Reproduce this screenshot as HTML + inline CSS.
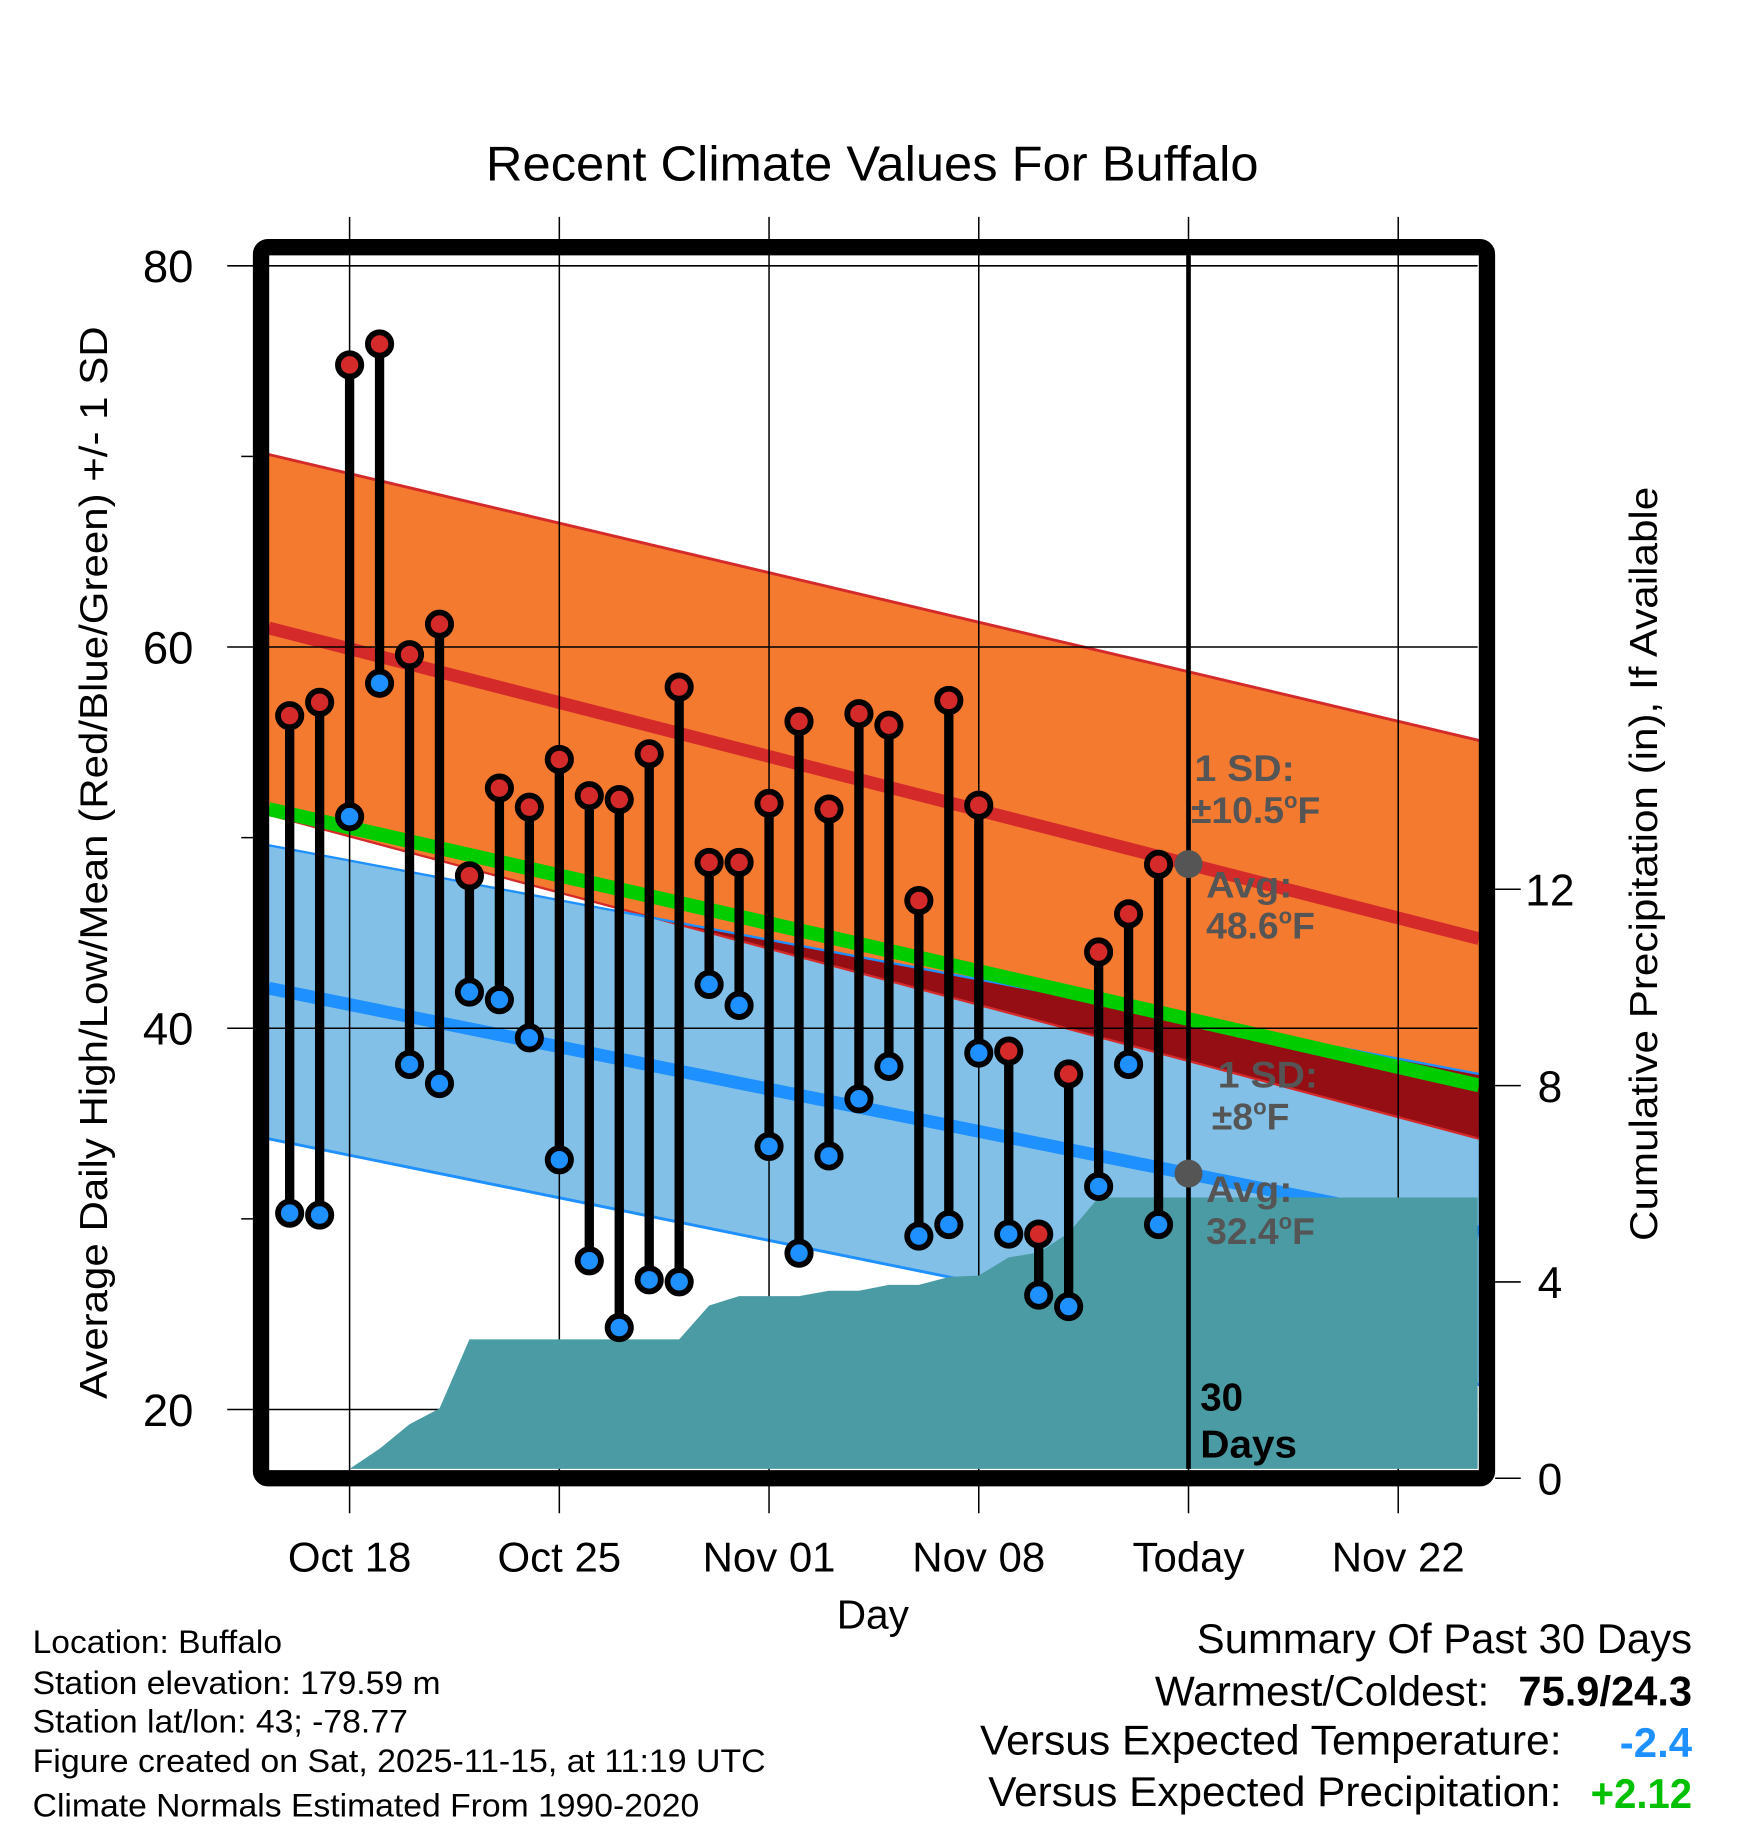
<!DOCTYPE html>
<html><head><meta charset="utf-8"><style>
html,body{margin:0;padding:0;background:#fff;}
svg{display:block;font-family:"Liberation Sans",sans-serif;}
</style></head><body>
<svg id="chart" width="1748" height="1828" viewBox="0 0 1500 1568" preserveAspectRatio="none" xmlns="http://www.w3.org/2000/svg">
<g id="bands"></g>
<g id="grid"></g>
<g id="precip"></g>
<g id="marks"></g>
<g id="axes"></g>
<text x="417" y="155" font-size="42" textLength="663" lengthAdjust="spacingAndGlyphs">Recent Climate Values For Buffalo</text>
<text transform="translate(92,740) rotate(-90)" font-size="33" text-anchor="middle" textLength="920" lengthAdjust="spacingAndGlyphs">Average Daily High/Low/Mean (Red/Blue/Green) +/- 1 SD</text>
<text transform="translate(1422,741) rotate(-90)" font-size="33" text-anchor="middle" textLength="647" lengthAdjust="spacingAndGlyphs">Cumulative Precipitation (in), If Available</text>
<text x="718" y="1397" font-size="35" textLength="62" lengthAdjust="spacingAndGlyphs">Day</text>
<g font-weight="bold" font-size="32" fill="#555">
<text x="1025" y="670" textLength="86" lengthAdjust="spacingAndGlyphs">1 SD:</text>
<text x="1022" y="706">±10.5<tspan font-size="19" dy="-13">o</tspan><tspan dy="13">F</tspan></text>
<text x="1035" y="770" textLength="74" lengthAdjust="spacingAndGlyphs">Avg:</text>
<text x="1035" y="805">48.6<tspan font-size="19" dy="-13">o</tspan><tspan dy="13">F</tspan></text>
<text x="1045" y="933" textLength="86" lengthAdjust="spacingAndGlyphs">1 SD:</text>
<text x="1040" y="969">±8<tspan font-size="19" dy="-13">o</tspan><tspan dy="13">F</tspan></text>
<text x="1035" y="1031" textLength="74" lengthAdjust="spacingAndGlyphs">Avg:</text>
<text x="1035" y="1067">32.4<tspan font-size="19" dy="-13">o</tspan><tspan dy="13">F</tspan></text>
</g>
<g font-weight="bold" font-size="33" fill="#000">
<text x="1030" y="1210">30</text><text x="1030" y="1250" textLength="83" lengthAdjust="spacingAndGlyphs">Days</text>
</g>
<g font-size="28" lengthAdjust="spacingAndGlyphs">
<text x="28" y="1418" textLength="214" lengthAdjust="spacingAndGlyphs">Location: Buffalo</text>
<text x="28" y="1453" textLength="350" lengthAdjust="spacingAndGlyphs">Station elevation: 179.59 m</text>
<text x="28" y="1486" textLength="322" lengthAdjust="spacingAndGlyphs">Station lat/lon: 43; -78.77</text>
<text x="28" y="1520" textLength="629" lengthAdjust="spacingAndGlyphs">Figure created on Sat, 2025-11-15, at 11:19 UTC</text>
<text x="28" y="1558" textLength="572" lengthAdjust="spacingAndGlyphs">Climate Normals Estimated From 1990-2020</text>
</g>
<g font-size="36">
<text x="1027" y="1418" textLength="425" lengthAdjust="spacingAndGlyphs">Summary Of Past 30 Days</text>
<text x="991" y="1463" textLength="287" lengthAdjust="spacingAndGlyphs">Warmest/Coldest:</text>
<text x="1303" y="1463" font-weight="bold" textLength="149" lengthAdjust="spacingAndGlyphs">75.9/24.3</text>
<text x="841" y="1505" textLength="499" lengthAdjust="spacingAndGlyphs">Versus Expected Temperature:</text>
<text x="1390" y="1507" font-weight="bold" fill="#1e90ff" textLength="62" lengthAdjust="spacingAndGlyphs">-2.4</text>
<text x="848" y="1549" textLength="492" lengthAdjust="spacingAndGlyphs">Versus Expected Precipitation:</text>
<text x="1365" y="1551" font-weight="bold" fill="#00c000" textLength="87" lengthAdjust="spacingAndGlyphs">+2.12</text>
</g>
</svg>
<script>
const days = [-2,-1,0,1,2,3,4,5,6,7,8,9,10,11,12,13,14,15,16,17,18,19,20,21,22,23,24,25,26,27];
const highs = [56.4,57.1,74.8,75.9,59.6,61.2,48.0,52.6,51.6,54.1,52.2,52.0,54.4,57.9,48.7,48.7,51.8,56.1,51.5,56.5,55.9,46.7,57.2,51.7,38.8,29.2,37.6,44.0,46.0,48.6];
const lows = [30.3,30.2,51.1,58.1,38.1,37.1,41.9,41.5,39.5,33.1,27.8,24.3,26.8,26.7,42.3,41.2,33.8,28.2,33.3,36.3,38.0,29.1,29.7,38.7,29.2,26.0,25.4,31.7,38.1,29.7];
const precip = [0,0,0,0.6,1.1,1.42,2.83,2.83,2.83,2.83,2.83,2.83,2.83,2.83,3.52,3.71,3.71,3.71,3.82,3.82,3.94,3.94,4.1,4.13,4.5,4.6,5.0,5.72,5.72,5.72];
const normDays = [-2.7, 37.7];
const normHigh = [61.0, 44.7];
const normLow = [42.1, 29.3];
const highUpper = [70.1, 55.1];
const highLower = [51.2, 34.2];
const lowUpper = [49.6, 37.6];
const lowLower = [34.2, 21.3];
const normMean = [51.5, 37.0];
const xTickDays = [0,7,14,21,28,35];
const xTickLabels = ["Oct 18","Oct 25","Nov 01","Nov 08","Today","Nov 22"];
const yTicks = [20,40,60,80];
const yMinor = [30,50,70];
const pTicks = [0,4,8,12];
const todayDay = 28;

const L=231,R=1268,T=219,B=1260;
const X=d=>300+(d)*25.71;
const Y=t=>228+(80-t)*16.35;
const P=p=>1268-p*42.1;
const NS="http://www.w3.org/2000/svg";
function mk(tag,attrs,parent){const e=document.createElementNS(NS,tag);for(const k in attrs)e.setAttribute(k,attrs[k]);parent.appendChild(e);return e;}
const bands=document.getElementById('bands'),grid=document.getElementById('grid'),pr=document.getElementById('precip'),marks=document.getElementById('marks'),axes=document.getElementById('axes');

function line(arr){return normDays.map((d,i)=>X(d)+','+Y(arr[i])).join(' ');}
function poly(top,bot){const a=normDays.map((d,i)=>[X(d),Y(top[i])]);const b=normDays.map((d,i)=>[X(d),Y(bot[i])]).reverse();return a.concat(b).map(p=>p.join(',')).join(' ');}
let e;
e=mk('polygon',{points:poly(highUpper,highLower),fill:'#f47a30'},bands);

e=mk('polygon',{points:poly(lowUpper,lowLower),fill:'#82c0e8'},bands);

// overlap region
(function(){
  const d0=normDays[0],d1=normDays[1];
  const g0=lowUpper[0]-highLower[0],g1=lowUpper[1]-highLower[1];
  if(g1>0){
    const t=g0>0?0:g0/(g0-g1);
    const ds=d0+t*(d1-d0);
    const lu=lowUpper[0]+t*(lowUpper[1]-lowUpper[0]);
    const pts=[[X(ds),Y(lu)],[X(d1),Y(lowUpper[1])],[X(d1),Y(highLower[1])]];
    e=mk('polygon',{points:pts.map(p=>p.join(',')).join(' '),fill:'#940e14'},bands);
    
  }
})();
[[highUpper,'#d42a2a',2.5],[highLower,'#d42a2a',2],[lowUpper,'#1e90ff',2],[lowLower,'#1e90ff',2.5]].forEach(s=>{
  e=mk('polyline',{points:line(s[0]),stroke:s[1],'stroke-width':s[2],fill:'none'},bands);
  });
e=mk('polyline',{points:line(normHigh),stroke:'#d42a2a','stroke-width':11,fill:'none'},bands);

e=mk('polyline',{points:line(normLow),stroke:'#1e90ff','stroke-width':11,fill:'none'},bands);

e=mk('polyline',{points:line(normMean),stroke:'#00cc00','stroke-width':12,fill:'none'},bands);


xTickDays.forEach(d=>{e=mk('line',{x1:X(d),x2:X(d),y1:186,y2:1298,stroke:'#000','stroke-width':1.3},grid);
  });
yTicks.forEach(t=>{e=mk('line',{x1:195,x2:R,y1:Y(t),y2:Y(t),stroke:'#000','stroke-width':1.3},grid);
  });

const pts=[[X(days[0]),B]];
days.forEach((d,i)=>pts.push([X(d),Math.min(B,P(precip[i]))]));
pts.push([R,Math.min(B,P(precip[precip.length-1]))]);pts.push([R,B]);
e=mk('polygon',{points:pts.map(p=>p.join(',')).join(' '),fill:'#4a9ba3'},pr);


e=mk('line',{x1:X(todayDay),x2:X(todayDay),y1:T,y2:B,stroke:'#000','stroke-width':4},marks);

days.forEach((d,i)=>{
  e=mk('line',{x1:X(d),x2:X(d),y1:Y(highs[i]),y2:Y(lows[i]),stroke:'#000','stroke-width':8},marks);
  
});
days.forEach((d,i)=>{
  [[highs[i],'#d42a2a','high-point'],[lows[i],'#1e90ff','low-point']].forEach(s=>{
    e=mk('circle',{cx:X(d),cy:Y(s[0]),r:10,fill:s[1],stroke:'#000','stroke-width':5},marks);
    
  });
});
[normHigh,normLow].forEach((arr,k)=>{
  const v=arr[0]+(arr[1]-arr[0])*(todayDay-normDays[0])/(normDays[1]-normDays[0]);
  e=mk('circle',{cx:X(todayDay),cy:Y(v),r:12,fill:'#555'},marks);
  
});

e=mk('rect',{x:224,y:212,width:1052,height:1056,rx:6,fill:'none',stroke:'#000','stroke-width':14},axes);

yTicks.forEach(t=>{e=mk('text',{x:166,y:Y(t)+14,'font-size':39,'text-anchor':'end'},axes);e.textContent=String(t);
  });
yMinor.forEach(t=>{e=mk('line',{x1:207,x2:217,y1:Y(t),y2:Y(t),stroke:'#000','stroke-width':1.3},axes);
  });
pTicks.forEach(p=>{e=mk('line',{x1:1283,x2:1305,y1:P(p),y2:P(p),stroke:'#000','stroke-width':1.3},axes);
  
  e=mk('text',{x:1330,y:P(p)+14,'font-size':38,'text-anchor':'middle'},axes);e.textContent=String(p);
  });
xTickDays.forEach((d,i)=>{e=mk('text',{x:X(d),y:1348,'font-size':36,'text-anchor':'middle'},axes);e.textContent=xTickLabels[i];
  });
</script>
</body></html>
